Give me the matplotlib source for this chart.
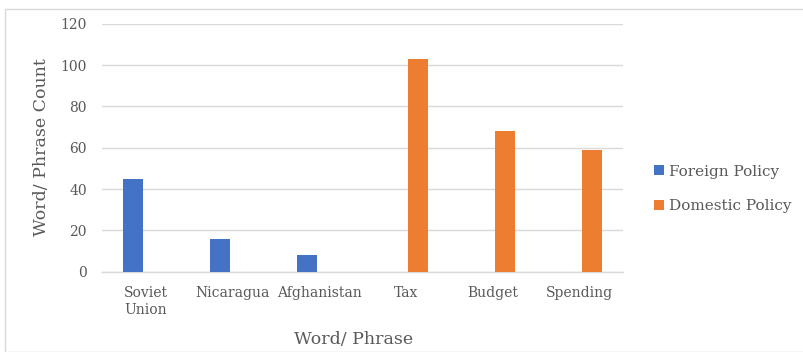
import matplotlib
matplotlib.use("Agg")
import matplotlib.pyplot as plt
import numpy as np
from matplotlib.patches import Rectangle

categories = ["Soviet\nUnion", "Nicaragua", "Afghanistan", "Tax", "Budget", "Spending"]
foreign = [45, 16, 8, 0, 0, 0]
domestic = [0, 0, 0, 103, 68, 59]
series_names = ["Foreign Policy", "Domestic Policy"]
yticks = [0, 20, 40, 60, 80, 100, 120]

W, H = 804, 352
fig = plt.figure(figsize=(W / 100, H / 100), dpi=100)
plt.rcParams['font.family'] = ['DejaVu Serif']
txt = '#595959'

# chart border
fig.patches.append(Rectangle((5 / W, 0), 1.2, 1 - 9 / H, transform=fig.transFigure,
                             fill=False, edgecolor='#D9D9D9', linewidth=1.0))

x0, x1 = 102, 623
y0, y1 = 271.7, 23.7
ax = fig.add_axes([x0 / W, 1 - y0 / H, (x1 - x0) / W, (y0 - y1) / H])

x = np.arange(len(categories))
bw = 0.23
off = 0.14
ax.bar(x - off, foreign, bw, color='#4472C4', label=series_names[0], zorder=3)
ax.bar(x + off, domestic, bw, color='#ED7D31', label=series_names[1], zorder=3)

ax.set_xlim(-0.5, len(categories) - 0.5)
ax.set_ylim(0, 120)
ax.set_yticks(yticks)
ax.set_xticks(x)
ax.set_xticklabels(categories, fontsize=10, color=txt, linespacing=1.3)
ax.tick_params(axis='y', labelsize=10, labelcolor=txt, length=0, pad=11)
ax.tick_params(axis='x', length=0, pad=10)
ax.grid(axis='y', color='#D9D9D9', linewidth=1.0, zorder=0)
for s in ['top', 'right', 'left']:
    ax.spines[s].set_visible(False)
ax.spines['bottom'].set_color('#D9D9D9')
ax.spines['bottom'].set_linewidth(1.0)

fig.text(42 / W, 1 - 147 / H, "Word/ Phrase Count", rotation=90, ha='center', va='center',
         fontsize=12.5, color=txt)
fig.text(354 / W, 1 - 340 / H, "Word/ Phrase", ha='center', va='center',
         fontsize=12.5, color=txt)

leg = fig.legend(loc='center left', bbox_to_anchor=(640 / W, 1 - 189 / H), frameon=False,
                 fontsize=11, labelcolor=txt, handlelength=0.65, handleheight=0.65,
                 handletextpad=0.35, labelspacing=1.35)

fig.savefig("out.png", dpi=100)
